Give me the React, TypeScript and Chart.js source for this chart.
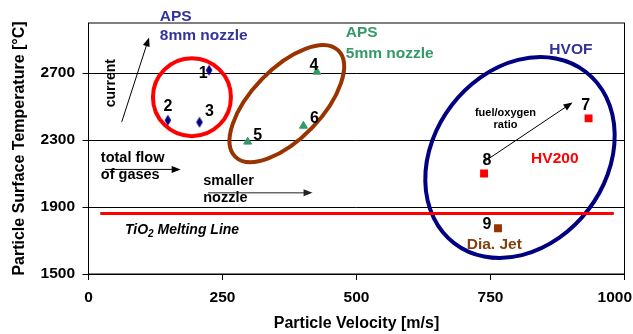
import React, { useEffect, useRef } from 'react';
import { Chart, registerables } from 'chart.js';

Chart.register(...registerables);

// ---------- data ----------
const aps8Labels = ['1', '2', '3'];
const aps8Velocity = [225, 148, 207];
const aps8Temp = [2718, 2419, 2407];

const aps5Labels = ['4', '5', '6'];
const aps5Velocity = [426, 297, 401];
const aps5Temp = [2708, 2290, 2385];

const hv200Labels = ['7', '8'];
const hv200Velocity = [933, 738];
const hv200Temp = [2430, 2101];

const diaJetLabels = ['9'];
const diaJetVelocity = [764];
const diaJetTemp = [1773];

const meltingVelocity = [22, 980];
const meltingTemp = [1862, 1862];

const xTickValues = [0, 250, 500, 750, 1000];
const yTickValues = [1500, 1900, 2300, 2700];

// ---------- styling / annotation layout ----------
const FONT = "'Liberation Sans', Arial, Helvetica, sans-serif";
const NAVY = '#000080';
const SLATE = '#333399';
const GREEN = '#339966';
const RED = '#ff0000';
const BROWN = '#993300';
const DIA_BROWN = '#804010';

// offsets (px) of point number labels relative to their marker
const labelOffsets: Record<string, [number, number]> = {
  '1': [-6, 3],
  '2': [0, -14],
  '3': [10, -11],
  '4': [-3, -6],
  '5': [10, -6],
  '6': [11, -7],
  '7': [-3, -13],
  '8': [3, -13],
  '9': [-11, -4],
};

// ellipses: center in data units, radii (px), rotation (deg)
const ellipses = [
  { vx: 193, vy: 2557, rx: 39, ry: 39, rot: 0, color: RED },
  { vx: 370, vy: 2518, rx: 74, ry: 35, rot: -46, color: BROWN },
  { vx: 805, vy: 2196, rx: 108, ry: 86, rot: -52.6, color: NAVY },
];

// text annotations in data units
const texts = [
  { t: 'APS', vx: 133, vy: 3037, align: 'left', color: SLATE, size: 15.5 },
  { t: '8mm nozzle', vx: 133, vy: 2924, align: 'left', color: SLATE, size: 15.5 },
  { t: 'APS', vx: 480, vy: 2939, align: 'left', color: GREEN, size: 15.5 },
  { t: '5mm nozzle', vx: 480, vy: 2819, align: 'left', color: GREEN, size: 15.5 },
  { t: 'HVOF', vx: 900, vy: 2843, align: 'center', color: SLATE, size: 15.5 },
  { t: 'HV200', vx: 870, vy: 2190, align: 'center', color: RED, size: 15.5 },
  { t: 'Dia. Jet', vx: 757, vy: 1676, align: 'center', color: DIA_BROWN, size: 15.5 },
  { t: 'total flow', vx: 23, vy: 2192, align: 'left', color: '#000', size: 14.5 },
  { t: 'of gases', vx: 23, vy: 2094, align: 'left', color: '#000', size: 14.5 },
  { t: 'smaller', vx: 214, vy: 2053, align: 'left', color: '#000', size: 14.5 },
  { t: 'nozzle', vx: 214, vy: 1954, align: 'left', color: '#000', size: 14.5 },
  { t: 'fuel/oxygen', vx: 778, vy: 2461, align: 'center', color: '#000', size: 11 },
  { t: 'ratio', vx: 778, vy: 2392, align: 'center', color: '#000', size: 11 },
];

const arrows = [
  { x1: 62, y1: 2409, x2: 113, y2: 2914, color: '#000' },
  { x1: 31, y1: 2125, x2: 172, y2: 2125, color: '#000' },
  { x1: 223, y1: 1985, x2: 418, y2: 1985, color: '#222' },
  { x1: 740, y1: 2175, x2: 903, y2: 2525, color: '#000' },
];

function makeDiamond(color: string): HTMLCanvasElement {
  const c = document.createElement('canvas');
  c.width = 8;
  c.height = 12;
  const g = c.getContext('2d')!;
  g.fillStyle = color;
  g.beginPath();
  g.moveTo(4, 0.5);
  g.lineTo(7.3, 6);
  g.lineTo(4, 11.5);
  g.lineTo(0.7, 6);
  g.closePath();
  g.fill();
  return c;
}

function drawArrow(ctx: CanvasRenderingContext2D, x1: number, y1: number, x2: number, y2: number, color: string) {
  const ang = Math.atan2(y2 - y1, x2 - x1);
  const len = 9;
  const hw = 3.5;
  ctx.save();
  ctx.strokeStyle = color;
  ctx.fillStyle = color;
  ctx.lineWidth = 1;
  ctx.beginPath();
  ctx.moveTo(x1, y1);
  ctx.lineTo(x2 - Math.cos(ang) * len * 0.8, y2 - Math.sin(ang) * len * 0.8);
  ctx.stroke();
  ctx.beginPath();
  ctx.moveTo(x2, y2);
  ctx.lineTo(x2 - Math.cos(ang) * len - Math.sin(ang) * hw, y2 - Math.sin(ang) * len + Math.cos(ang) * hw);
  ctx.lineTo(x2 - Math.cos(ang) * len + Math.sin(ang) * hw, y2 - Math.sin(ang) * len - Math.cos(ang) * hw);
  ctx.closePath();
  ctx.fill();
  ctx.restore();
}

const annotationPlugin = {
  id: 'annotations',
  beforeDraw(chart: any) {
    // keep the last x tick label inside the canvas (right-aligned, like the reference)
    const s = chart.scales.x;
    const items = s.getLabelItems(chart.chartArea);
    const last = items && items[items.length - 1];
    if (last && last.options && last.options.translation) {
      last.options.textAlign = 'right';
      last.options.translation = [chart.width - 1, last.options.translation[1]];
    }
  },
  beforeDatasetsDraw(chart: any) {
    const { ctx, chartArea, scales } = chart;
    const xs = scales.x;
    const ys = scales.y;
    // plot frame
    ctx.save();
    ctx.strokeStyle = '#000';
    ctx.lineWidth = 1;
    ctx.strokeRect(chartArea.left, chartArea.top, chartArea.right - chartArea.left, chartArea.bottom - chartArea.top);
    ctx.restore();
    // ellipses
    ellipses.forEach((e) => {
      ctx.save();
      ctx.strokeStyle = e.color;
      ctx.lineWidth = 4;
      ctx.beginPath();
      ctx.ellipse(xs.getPixelForValue(e.vx), ys.getPixelForValue(e.vy), e.rx, e.ry, (e.rot * Math.PI) / 180, 0, Math.PI * 2);
      ctx.stroke();
      ctx.restore();
    });
  },
  afterDatasetsDraw(chart: any) {
    const { ctx, scales } = chart;
    const xs = scales.x;
    const ys = scales.y;
    // number labels
    chart.data.datasets.forEach((ds: any, di: number) => {
      if (!ds.pointLabels) return;
      const meta = chart.getDatasetMeta(di);
      meta.data.forEach((el: any, i: number) => {
        const lab = ds.pointLabels[i];
        const off = labelOffsets[lab] || [0, 0];
        ctx.save();
        ctx.font = `bold 16px ${FONT}`;
        ctx.fillStyle = '#000';
        ctx.textAlign = 'center';
        ctx.textBaseline = 'middle';
        ctx.fillText(lab, el.x + off[0], el.y + off[1]);
        ctx.restore();
      });
    });
    // texts
    texts.forEach((t) => {
      ctx.save();
      ctx.font = `bold ${t.size}px ${FONT}`;
      ctx.fillStyle = t.color;
      ctx.textAlign = t.align as CanvasTextAlign;
      ctx.textBaseline = 'middle';
      ctx.fillText(t.t, xs.getPixelForValue(t.vx), ys.getPixelForValue(t.vy));
      ctx.restore();
    });
    // rotated "current"
    ctx.save();
    ctx.translate(xs.getPixelForValue(43), ys.getPixelForValue(2640));
    ctx.rotate(-Math.PI / 2);
    ctx.font = `bold 14px ${FONT}`;
    ctx.fillStyle = '#000';
    ctx.textAlign = 'center';
    ctx.textBaseline = 'middle';
    ctx.fillText('current', 0, 0);
    ctx.restore();
    // TiO2 Melting Line (with subscript)
    ctx.save();
    let px = xs.getPixelForValue(68);
    const py = ys.getPixelForValue(1763);
    ctx.fillStyle = '#000';
    ctx.textAlign = 'left';
    ctx.textBaseline = 'middle';
    ctx.font = `italic bold 14px ${FONT}`;
    ctx.fillText('TiO', px, py);
    px += ctx.measureText('TiO').width;
    ctx.font = `italic bold 10px ${FONT}`;
    ctx.fillText('2', px, py + 4);
    px += ctx.measureText('2').width;
    ctx.font = `italic bold 14px ${FONT}`;
    ctx.fillText(' Melting Line', px, py);
    ctx.restore();
    // arrows
    arrows.forEach((a) => {
      drawArrow(ctx, xs.getPixelForValue(a.x1), ys.getPixelForValue(a.y1), xs.getPixelForValue(a.x2), ys.getPixelForValue(a.y2), a.color);
    });
  },
};

export default function App() {
  const ref = useRef<HTMLCanvasElement | null>(null);
  useEffect(() => {
    if (!ref.current) return;
    const toPts = (xs: number[], ys: number[]) => xs.map((x, i) => ({ x, y: ys[i] }));
    const diamond = makeDiamond(NAVY);
    const chart = new Chart(ref.current, {
      type: 'scatter',
      data: {
        datasets: [
          {
            type: 'line',
            label: 'TiO2 Melting Line',
            data: toPts(meltingVelocity, meltingTemp),
            borderColor: RED,
            borderWidth: 3,
            pointRadius: 0,
            showLine: true,
            fill: false,
          } as any,
          {
            label: 'APS 8mm nozzle',
            data: toPts(aps8Velocity, aps8Temp),
            pointStyle: diamond,
            backgroundColor: NAVY,
            borderColor: NAVY,
            pointRadius: 5,
            pointLabels: aps8Labels,
          } as any,
          {
            label: 'APS 5mm nozzle',
            data: toPts(aps5Velocity, aps5Temp),
            pointStyle: 'triangle',
            backgroundColor: GREEN,
            borderColor: GREEN,
            borderWidth: 1,
            pointRadius: 4.6,
            pointLabels: aps5Labels,
          } as any,
          {
            label: 'HV200',
            data: toPts(hv200Velocity, hv200Temp),
            pointStyle: 'rect',
            backgroundColor: RED,
            borderColor: RED,
            borderWidth: 0,
            pointRadius: 5.6,
            pointLabels: hv200Labels,
          } as any,
          {
            label: 'Dia. Jet',
            data: toPts(diaJetVelocity, diaJetTemp),
            pointStyle: 'rect',
            backgroundColor: BROWN,
            borderColor: BROWN,
            borderWidth: 0,
            pointRadius: 5.6,
            pointLabels: diaJetLabels,
          } as any,
        ],
      },
      options: {
        responsive: false,
        animation: false,
        events: [],
        layout: { padding: { left: 0, top: 23, right: 8.5, bottom: 0 } },
        plugins: { legend: { display: false }, tooltip: { enabled: false } },
        scales: {
          x: {
            type: 'linear',
            min: 0,
            max: 1000,
            afterFit: (s: any) => {
              s.height = 60;
              s.paddingLeft = 0;
              s.paddingRight = 0;
            },
            afterBuildTicks: (s: any) => {
              s.ticks = xTickValues.map((v) => ({ value: v }));
            },
            grid: { drawOnChartArea: false, drawTicks: true, tickLength: 6, color: '#000', lineWidth: 1 },
            border: { display: true, color: '#000', width: 1 },
            ticks: {
              color: '#000',
              font: { family: FONT, size: 15.5, weight: 'bold' },
              padding: 8,
              maxRotation: 0,
              callback: (v: any) => String(v),
            },
            title: {
              display: true,
              text: 'Particle Velocity [m/s]',
              color: '#000',
              font: { family: FONT, size: 16, weight: 'bold' },
              padding: { top: 0, bottom: 1 },
            },
          },
          y: {
            type: 'linear',
            min: 1500,
            max: 3000,
            afterFit: (s: any) => {
              s.width = 88.5;
              s.paddingTop = 0;
              s.paddingBottom = 0;
            },
            afterBuildTicks: (s: any) => {
              s.ticks = yTickValues.map((v) => ({ value: v }));
            },
            grid: { drawOnChartArea: true, drawTicks: true, tickLength: 6, color: '#000', lineWidth: 1 },
            border: { display: true, color: '#000', width: 1 },
            ticks: {
              color: '#000',
              font: { family: FONT, size: 15.5, weight: 'bold' },
              padding: 7.5,
              callback: (v: any) => String(v),
            },
            title: {
              display: true,
              text: 'Particle Surface Temperature [°C]',
              color: '#000',
              font: { family: FONT, size: 16, weight: 'bold' },
              padding: { top: 10, bottom: 0 },
            },
          },
        },
      } as any,
      plugins: [annotationPlugin],
    });
    return () => chart.destroy();
  }, []);
  return (
    <div style={{ position: 'absolute', left: 0, top: 0, width: 633, height: 334, background: '#fff' }}>
      <canvas ref={ref} width={633} height={334} style={{ display: 'block' }} />
    </div>
  );
}
